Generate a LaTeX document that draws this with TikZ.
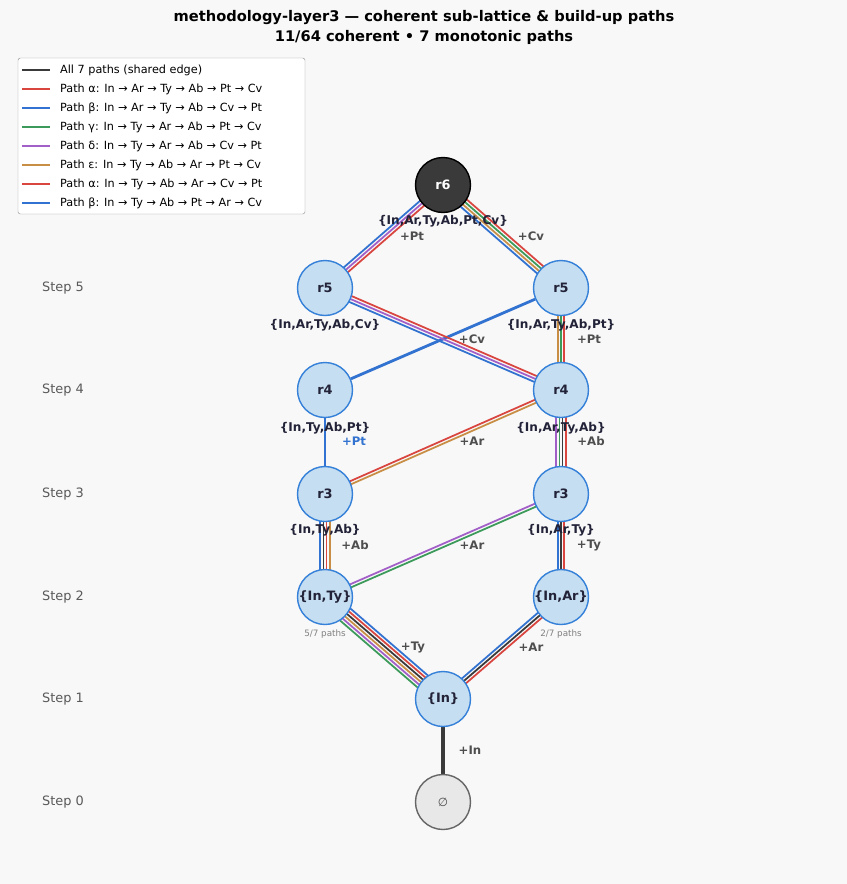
\documentclass[tikz,border=0pt]{standalone}
\usepackage{fontspec}
\setmainfont{DejaVu Sans}
\usetikzlibrary{calc, backgrounds}

\definecolor{bgc}{HTML}{F8F8F8}
\definecolor{nodefill}{HTML}{C6DEF1}
\definecolor{nodeline}{HTML}{3580D8}
\definecolor{pa}{HTML}{D9453F}
\definecolor{pb}{HTML}{3272D0}
\definecolor{pg}{HTML}{3C9A5A}
\definecolor{pd}{HTML}{A35FC8}
\definecolor{pe}{HTML}{C98E45}
\definecolor{dk}{HTML}{3A3A3A}
\definecolor{txt}{HTML}{222238}

\tikzset{
  lat/.style={circle, draw=nodeline, fill=nodefill, line width=1.2pt, minimum size=1.65cm,
    inner sep=0pt, font=\bfseries\fontsize{11}{13}\selectfont, text=txt},
  setlab/.style={font=\bfseries\fontsize{10.3}{11}\selectfont, text=txt},
  edgelab/.style={font=\bfseries\fontsize{10}{11}\selectfont, text=dk!90},
  steplab/.style={font=\fontsize{11}{12}\selectfont, text=black!65},
  leg/.style={anchor=west, font=\fontsize{9.6}{11}\selectfont}
}

% parallel coloured strands between two nodes
\newcommand{\bund}[3]{%
  \foreach \c [count=\i] in {#3} {\global\let\nn\i}%
  \foreach \c [count=\i] in {#3} {
    \pgfmathsetmacro{\off}{(\i-(\nn+1)/2)*2.7}
    \draw[\c, line width=1.5pt] ($(#1)!\off pt!90:(#2)$) -- ($(#2)!\off pt!-90:(#1)$);
  }}

\begin{document}
\begin{tikzpicture}[x=0.03cm, y=-0.03cm]
  \useasboundingbox (0,0) rectangle (847,884);

  % ----- Title -----
  \node[font=\bfseries\fontsize{12.5}{14}\selectfont] (title) at (424,18) {methodology-layer3 — coherent sub-lattice \& build-up paths};
  \node[font=\bfseries\fontsize{12.5}{14}\selectfont] (subtitle) at (424,37) {11/64 coherent  •  7 monotonic paths};

  % ----- Lattice nodes -----
  \node[lat, fill=dk, draw=black, text=white] (r6) at (443,185) {r6};
  \node[lat] (r5l) at (325,288) {r5};
  \node[lat] (r5r) at (561,288) {r5};
  \node[lat] (r4l) at (325,390) {r4};
  \node[lat] (r4r) at (561,390) {r4};
  \node[lat] (r3l) at (325,494) {r3};
  \node[lat] (r3r) at (561,494) {r3};
  \node[lat] (ity) at (325,597) {\{In,Ty\}};
  \node[lat] (iar) at (561,597) {\{In,Ar\}};
  \node[lat] (in) at (443,699) {\{In\}};
  \node[lat, fill=black!9, draw=black!60, font=\fontsize{10}{12}\selectfont, text=black!70] (empty) at (443,802) {∅};

  % ----- Path strands -----
  \begin{scope}[on background layer]
    \fill[bgc] (0,0) rectangle (847,884);
    \draw[dk, line width=2.6pt] (empty) -- (in);
    \bund{in}{iar}{pa,dk,pb}
    \bund{in}{ity}{pb,pa,dk,pe,pd,pg}
    \bund{iar}{r3r}{pa,dk,pb}
    \bund{ity}{r3r}{pg,pd}
    \bund{ity}{r3l}{pe,pa,dk,pb}
    \bund{r3r}{r4r}{pa,dk,pg,pd}
    \bund{r3l}{r4r}{pe,pa}
    \draw[pb, line width=2.4pt] (r3l) -- (r4l);
    \draw[pb, line width=2.4pt] (r4l) -- (r5r);
    \bund{r4r}{r5r}{pa,pg,pe}
    \bund{r4r}{r5l}{pa,pd,pb}
    \bund{r5r}{r6}{pa,pg,pe,pb}
    \bund{r5l}{r6}{pa,pd,pb}
  \end{scope}

  % ----- Set labels -----
  \node[setlab] (l6) at (443,221) {\{In,Ar,Ty,Ab,Pt,Cv\}};
  \node[setlab] (l5l) at (325,325) {\{In,Ar,Ty,Ab,Cv\}};
  \node[setlab] (l5r) at (561,325) {\{In,Ar,Ty,Ab,Pt\}};
  \node[setlab] (l4l) at (325,428) {\{In,Ty,Ab,Pt\}};
  \node[setlab] (l4r) at (561,428) {\{In,Ar,Ty,Ab\}};
  \node[setlab] (l3l) at (325,530) {\{In,Ty,Ab\}};
  \node[setlab] (l3r) at (561,530) {\{In,Ar,Ty\}};
  \node[font=\fontsize{7.5}{8}\selectfont, text=black!50] (cty) at (325,634) {5/7 paths};
  \node[font=\fontsize{7.5}{8}\selectfont, text=black!50] (car) at (561,634) {2/7 paths};

  % ----- Edge labels -----
  \node[edgelab] at (470,750) {+In};
  \node[edgelab] at (413,647) {+Ty};
  \node[edgelab] at (531,647) {+Ar};
  \node[edgelab] at (355,545) {+Ab};
  \node[edgelab] at (472,545) {+Ar};
  \node[edgelab] at (589,545) {+Ty};
  \node[edgelab, text=pb] at (354,441) {+Pt};
  \node[edgelab] at (472,441) {+Ar};
  \node[edgelab] at (591,441) {+Ab};
  \node[edgelab] at (472,339) {+Cv};
  \node[edgelab] at (589,339) {+Pt};
  \node[edgelab] at (412,236) {+Pt};
  \node[edgelab] at (531,236) {+Cv};

  % ----- Step labels -----
  \foreach \s/\y in {0/802,1/699,2/597,3/494,4/390,5/288}
    \node[steplab, anchor=west] (step\s) at (38,\y) {Step \s};

  % ----- Legend -----
  \draw[black!40, fill=white, rounded corners=2pt] (18,58) rectangle (305,214);
  \foreach \c/\t [count=\i] in {
      dk/{All 7 paths (shared edge)},
      pa/{Path α: In → Ar → Ty → Ab → Pt → Cv},
      pb/{Path β: In → Ar → Ty → Ab → Cv → Pt},
      pg/{Path γ: In → Ty → Ar → Ab → Pt → Cv},
      pd/{Path δ: In → Ty → Ar → Ab → Cv → Pt},
      pe/{Path ε: In → Ty → Ab → Ar → Pt → Cv},
      pa/{Path α: In → Ty → Ab → Ar → Cv → Pt},
      pb/{Path β: In → Ty → Ab → Pt → Ar → Cv}} {
    \draw[\c, line width=2.4pt] (22,51+19*\i) -- (50,51+19*\i);
    \node[leg] (leg\i) at (56,51+19*\i) {\t};
  }
\end{tikzpicture}
\end{document}
